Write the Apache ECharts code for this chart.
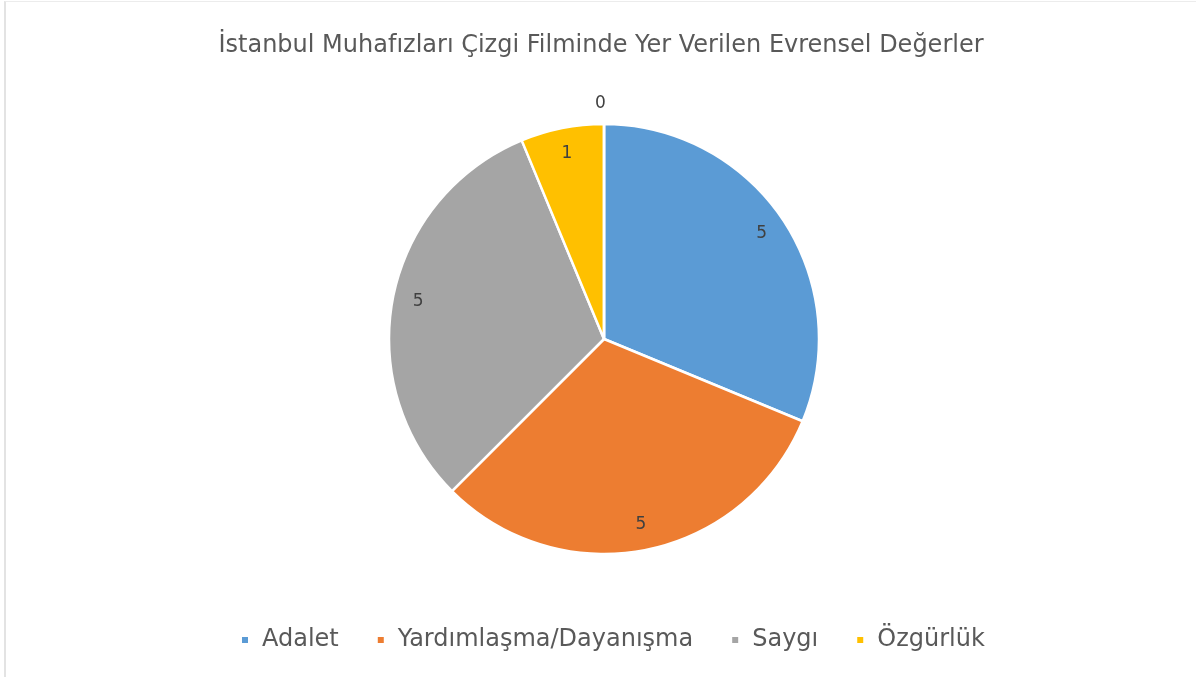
<!DOCTYPE html>
<html>
<head>
<meta charset="utf-8">
<script src="https://cdn.jsdelivr.net/npm/echarts@6/dist/echarts.min.js"></script>
<style>
  html, body { margin: 0; padding: 0; background: #fff; }
  #chart { position: absolute; left: 4px; top: 1px; width: 1192px; height: 676px;
           border-left: 2px solid #e3e3e3; border-top: 1px solid #ececec; box-sizing: border-box; }
</style>
</head>
<body>
<div id="chart"></div>
<script>
var titleText = 'İstanbul Muhafızları Çizgi Filminde Yer Verilen Evrensel Değerler';
var categories = ['Adalet', 'Yardımlaşma/Dayanışma', 'Saygı', 'Özgürlük', ''];
var values = [5, 5, 5, 1, 0];
var colors = ['#5b9bd5', '#ed7d31', '#a5a5a5', '#ffc000', '#5b9bd5'];

var chart = echarts.init(document.getElementById('chart'));

var pieData = categories.map(function (name, i) {
  return { name: name, value: values[i], itemStyle: { color: colors[i] } };
});

// second ring only carries the value labels (placed near the rim, like Excel)
var labelData = categories.map(function (name, i) {
  var d = { name: name, value: values[i] };
  if (values[i] === 0) {
    d.label = { position: 'outside', distanceToLabelLine: -9 };
    d.labelLine = { show: false, length: 20, length2: 0 };
  }
  return d;
});

var option = {
  animation: false,
  backgroundColor: '#fff',
  title: {
    text: titleText,
    left: 'center',
    top: 27,
    textStyle: { fontFamily: 'DejaVu Sans', fontSize: 24, fontWeight: 'normal', color: '#595959' }
  },
  legend: {
    data: categories.slice(0, 4),
    bottom: 20,
    left: 229,
    icon: 'rect',
    itemWidth: 8,
    itemHeight: 8,
    itemGap: 37,
    textStyle: { fontFamily: 'DejaVu Sans', fontSize: 24, color: '#595959', padding: [0, 0, 0, 8] }
  },
  series: [
    {
      name: 'values',
      type: 'pie',
      center: [598, 337],
      radius: [0, 215],
      startAngle: 90,
      clockwise: true,
      silent: true,
      stillShowZeroSum: true,
      itemStyle: { borderColor: '#fff', borderWidth: 2.5 },
      label: { show: false },
      labelLine: { show: false },
      data: pieData
    },
    {
      name: 'labels',
      type: 'pie',
      center: [598, 337],
      radius: [158, 215],
      startAngle: 90,
      clockwise: true,
      silent: true,
      avoidLabelOverlap: false,
      itemStyle: { color: 'transparent', borderWidth: 0 },
      label: {
        show: true,
        position: 'inside',
        formatter: '{c}',
        fontFamily: 'DejaVu Sans',
        fontSize: 17,
        color: '#404040'
      },
      labelLine: { show: false },
      data: labelData
    }
  ]
};

chart.setOption(option);
</script>
</body>
</html>
